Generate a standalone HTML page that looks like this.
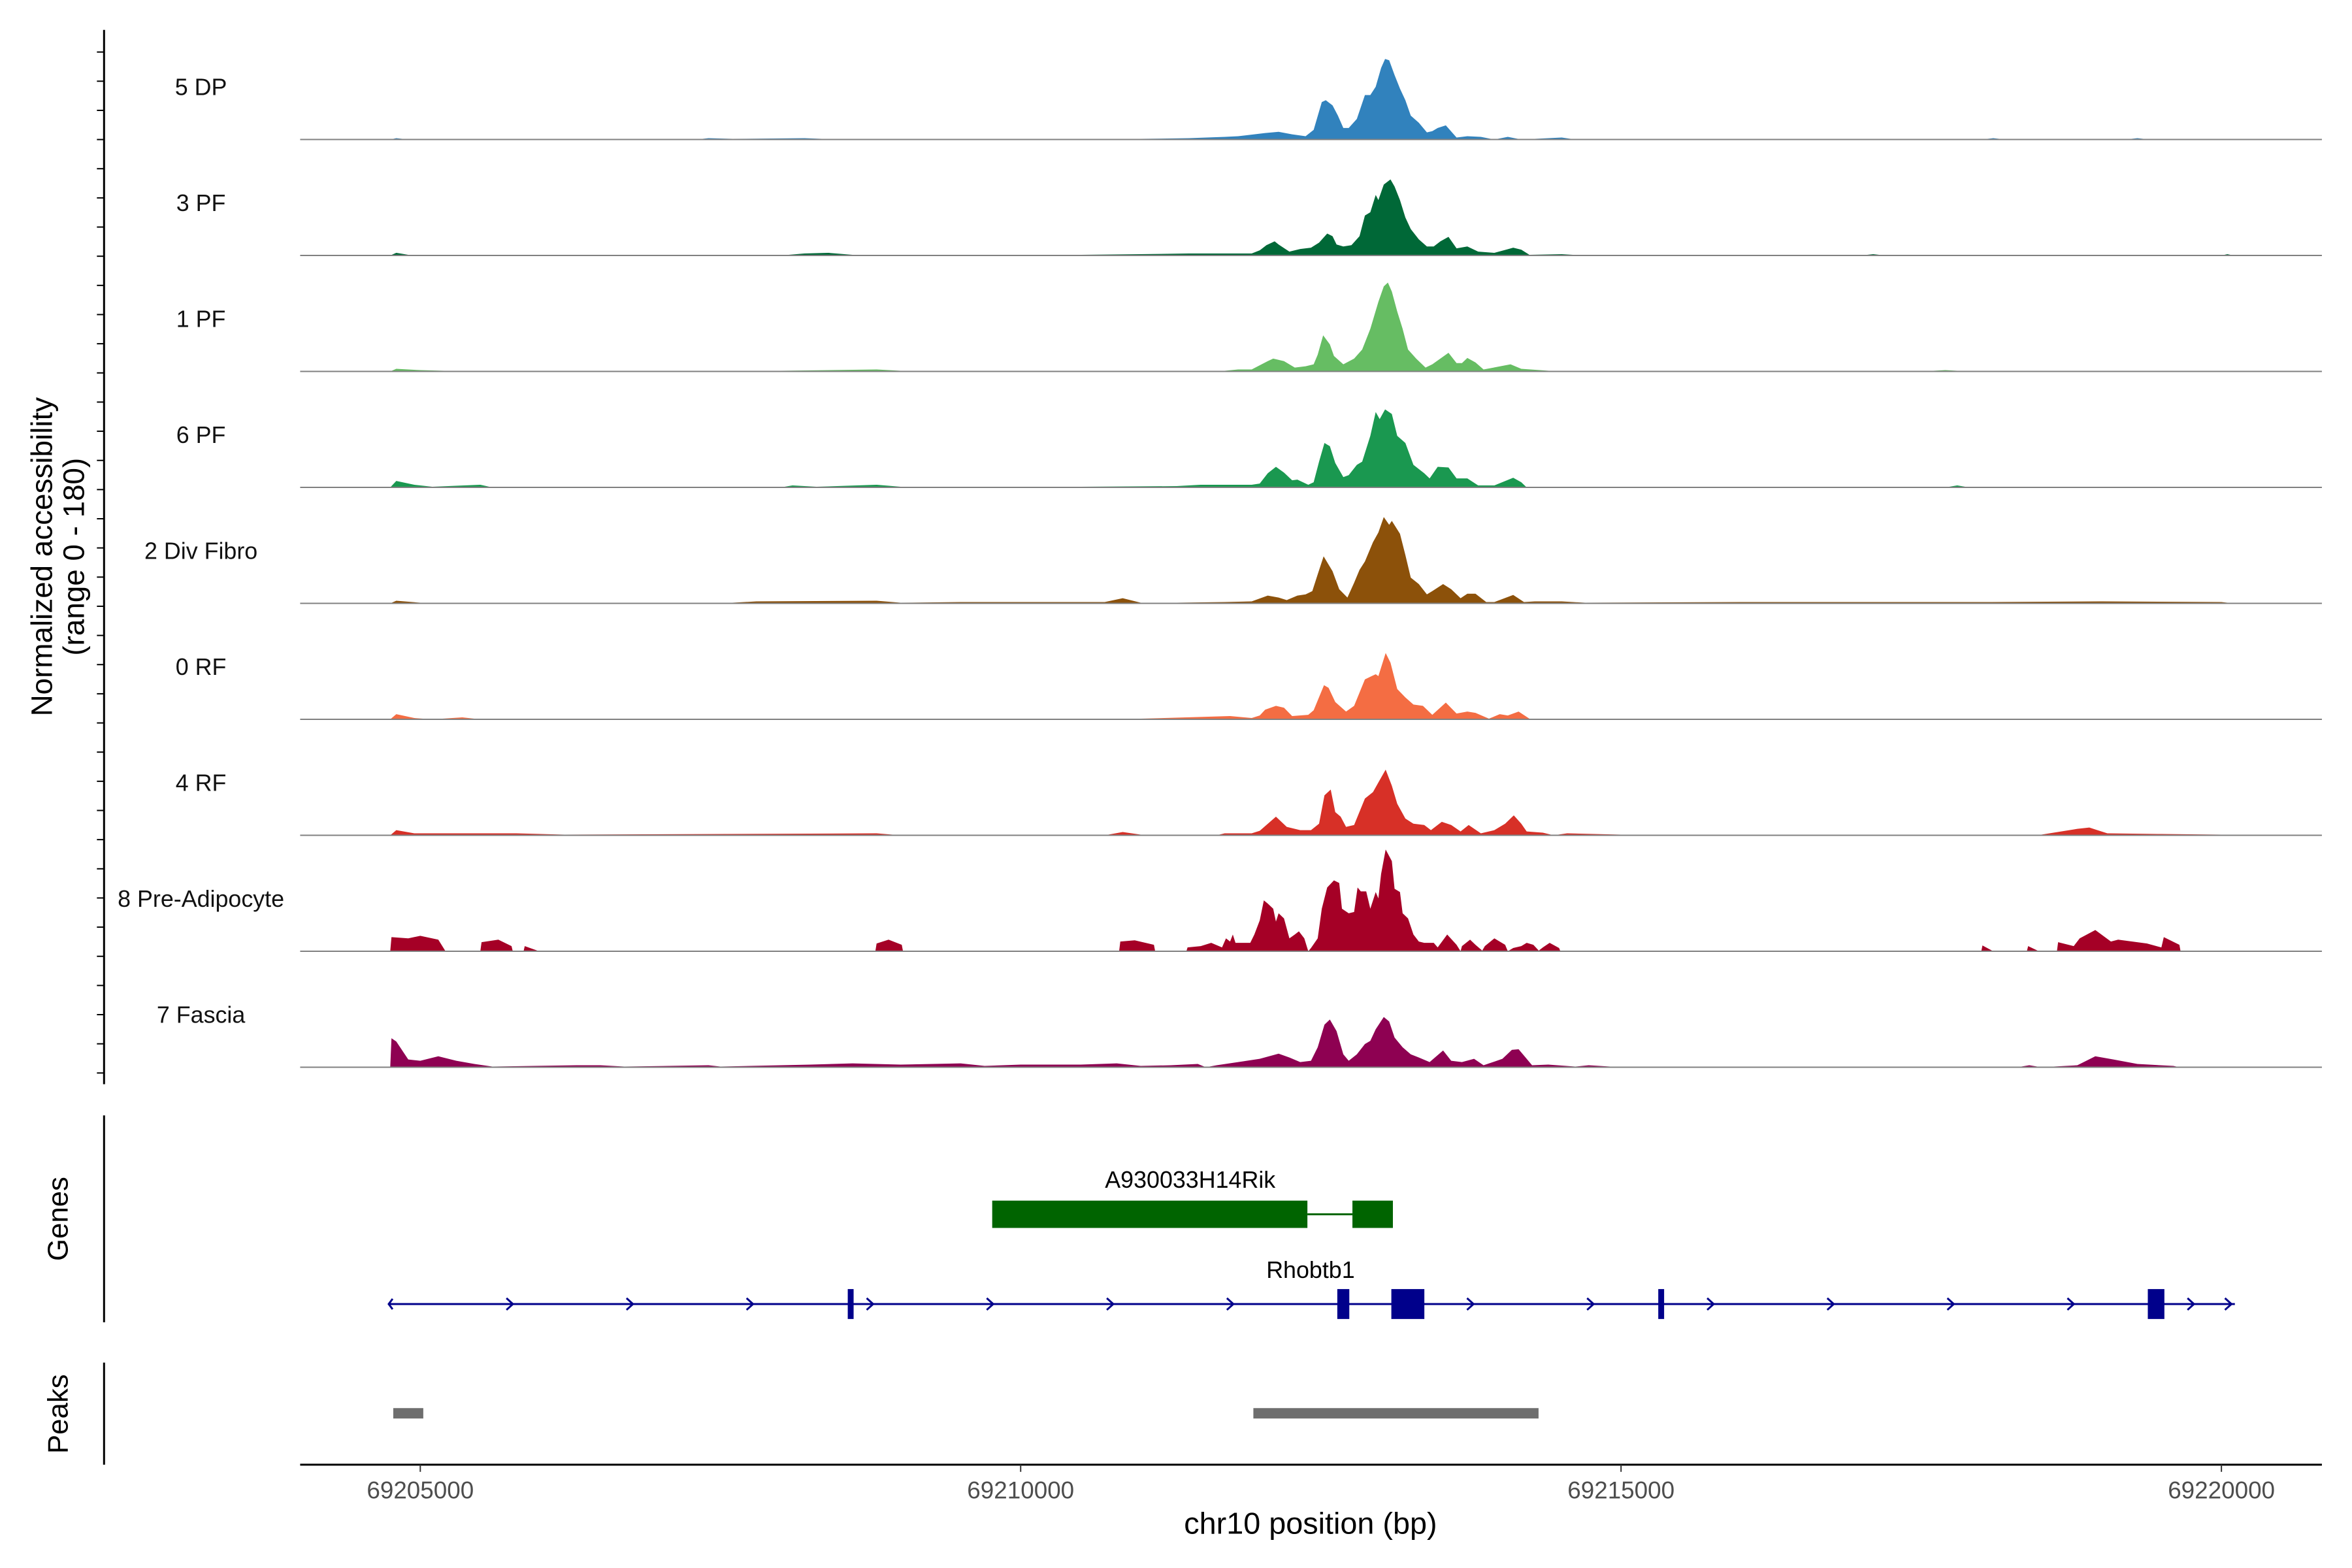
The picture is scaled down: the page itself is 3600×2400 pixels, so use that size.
<!DOCTYPE html>
<html><head><meta charset="utf-8"><style>
html,body{margin:0;padding:0;background:#fff}
svg{display:block}
text{font-family:"Liberation Sans",Arial,sans-serif}
</style></head><body>
<svg id="chart" width="3600" height="2400" viewBox="0 0 3600 2400" xmlns="http://www.w3.org/2000/svg">
<g transform="scale(0.9955)">
<g id="tracks"></g>
<g id="axes"></g>
<g id="genes"></g>
<g id="peaks"></g>
</g>
</svg>
<script>
// positions are bp offsets relative to 69210000
const origin = 69210000;
const trackNames = ["5 DP","3 PF","1 PF","6 PF","2 Div Fibro","0 RF","4 RF","8 Pre-Adipocyte","7 Fascia"];
const trackColors = ["#3182BD","#006837","#66BD63","#1A9850","#8C510A","#F46D43","#D73027","#A50026","#8E0152"];
const xTicks = [69205000,69210000,69215000,69220000];
const yMax = 180;
const sDP = [[-5250,0],[-5200,2],[-5100,0],[-2700,0],[-2600,2],[-2400,1],[-1800,2],[-1500,0],[0,0],[1000,1],[1400,2],[1699,4],[1811,5],[2036,10],[2148,12],[2261,8],[2373,5],[2440,15],[2508,58],[2541,61],[2597,53],[2642,37],[2687,18],[2732,18],[2800,32],[2867,69],[2912,69],[2957,82],[3002,111],[3035,125],[3069,123],[3114,100],[3159,79],[3204,61],[3249,37],[3316,26],[3383,11],[3428,13],[3473,18],[3541,22],[3630,3],[3720,5],[3833,4],[3945,0],[4057,4],[4169,0],[4506,3],[4619,0],[8000,0],[8100,2],[8200,0],[9200,0],[9300,2],[9400,0]];
const sPF3 = [[-5250,0],[-5200,4],[-5100,1],[-2000,0],[-1800,3],[-1600,4],[-1400,1],[-500,0],[500,1],[1000,2],[1400,3],[1924,3],[1991,8],[2047,16],[2115,22],[2148,17],[2238,6],[2328,10],[2418,12],[2485,20],[2553,34],[2597,30],[2631,17],[2687,14],[2755,16],[2822,30],[2867,62],[2912,67],[2957,94],[2979,86],[3024,110],[3080,118],[3114,107],[3159,86],[3204,59],[3249,41],[3316,25],[3383,14],[3440,14],[3496,22],[3563,29],[3630,11],[3720,14],[3810,6],[3945,4],[4102,12],[4169,9],[4237,1],[4506,2],[4700,0],[7000,0],[7100,2],[7200,0],[10000,0],[10050,2],[10100,0]];
const sPF1 = [[-5250,0],[-5200,4],[-5000,2],[-4800,1],[-2000,1],[-1200,3],[-1000,1],[1000,1],[1699,1],[1811,3],[1924,3],[2058,16],[2103,20],[2193,16],[2283,6],[2373,8],[2440,11],[2474,26],[2519,56],[2575,42],[2609,24],[2687,11],[2777,20],[2844,34],[2912,66],[2979,108],[3024,132],[3058,138],[3091,124],[3136,93],[3181,66],[3226,34],[3294,20],[3372,6],[3428,11],[3563,29],[3630,13],[3675,13],[3720,21],[3788,14],[3855,3],[4080,11],[4169,4],[4400,1],[4800,0],[7500,0],[7700,2],[7900,0]];
const sPF6 = [[-5250,0],[-5200,10],[-5050,4],[-4900,1],[-4500,4],[-4400,0],[-2000,0],[-1900,3],[-1700,1],[-1200,4],[-1000,1],[500,1],[1300,2],[1500,4],[1924,4],[1991,6],[2058,22],[2126,32],[2193,23],[2261,11],[2305,12],[2395,4],[2440,8],[2485,40],[2530,69],[2575,64],[2620,38],[2687,16],[2732,19],[2800,35],[2844,40],[2912,80],[2957,117],[2990,106],[3035,121],[3091,114],[3136,80],[3204,69],[3271,35],[3361,22],[3406,14],[3473,32],[3563,31],[3630,14],[3720,14],[3810,3],[3945,3],[4102,15],[4169,8],[4214,0],[7700,0],[7800,3],[7900,0]];
const sFibro = [[-5250,0],[-5200,4],[-5000,1],[-2400,1],[-2200,3],[-1200,4],[-1000,1],[-500,2],[700,2],[850,8],[1000,1],[1300,1],[1699,2],[1924,3],[2058,12],[2148,9],[2216,5],[2305,12],[2373,14],[2429,19],[2474,45],[2523,73],[2597,50],[2653,22],[2721,9],[2777,32],[2822,52],[2867,65],[2934,95],[2979,110],[3024,134],[3069,122],[3091,128],[3159,108],[3204,75],[3249,40],[3316,30],[3383,14],[3428,19],[3518,30],[3586,22],[3664,8],[3720,15],[3788,15],[3877,2],[3945,2],[4102,13],[4192,2],[4282,3],[4506,3],[4700,1],[6000,2],[7000,2],[8000,2],[9000,3],[10000,2],[10100,0]];
const sRF0 = [[-5250,0],[-5200,8],[-5050,2],[-4900,0],[-4650,3],[-4500,0],[0,0],[1000,1],[1744,5],[1924,2],[1991,6],[2036,15],[2126,21],[2193,18],[2261,5],[2395,7],[2440,14],[2526,53],[2564,49],[2620,27],[2710,12],[2777,21],[2867,62],[2923,67],[2957,70],[2979,67],[3040,103],[3080,88],[3136,47],[3204,34],[3271,23],[3350,21],[3428,7],[3541,26],[3630,9],[3720,12],[3788,10],[3900,1],[3990,8],[4057,6],[4147,12],[4237,1],[4400,0]];
const sRF4 = [[-5250,0],[-5200,8],[-5050,3],[-4200,3],[-3800,1],[-1200,3],[-1000,0],[700,0],[850,5],[1000,1],[1654,1],[1699,3],[1924,3],[1991,7],[2126,29],[2216,13],[2328,8],[2418,8],[2485,18],[2530,62],[2582,71],[2620,36],[2665,29],[2710,13],[2777,16],[2867,57],[2934,67],[2979,82],[3040,102],[3091,77],[3136,49],[3204,26],[3271,18],[3361,16],[3417,8],[3507,21],[3586,16],[3664,6],[3731,16],[3833,3],[3945,8],[4035,18],[4107,31],[4169,18],[4214,6],[4349,4],[4439,0],[4551,3],[5000,1],[8500,1],[8800,10],[8900,12],[9050,3],[9500,2],[10000,1],[10100,0]];
const sPreAd = [[-5250,0],[-5240,22],[-5100,20],[-5000,24],[-4850,18],[-4790,0],[-4500,0],[-4490,14],[-4350,18],[-4240,8],[-4230,0],[-4140,0],[-4130,8],[-4010,0],[-1210,0],[-1200,12],[-1100,18],[-990,10],[-980,0],[820,0],[830,15],[950,17],[1110,10],[1120,0],[1380,0],[1390,6],[1500,8],[1587,13],[1677,6],[1710,20],[1744,15],[1767,26],[1789,13],[1912,13],[1946,26],[1991,48],[2025,79],[2058,74],[2103,66],[2126,46],[2148,59],[2193,51],[2238,20],[2283,26],[2317,31],[2362,20],[2395,0],[2418,5],[2474,20],[2508,66],[2553,99],[2609,110],[2653,106],[2676,66],[2732,59],[2777,61],[2806,99],[2833,93],[2878,93],[2912,66],[2957,92],[2979,82],[3002,120],[3040,158],[3091,140],[3114,97],[3159,92],[3181,59],[3226,51],[3271,26],[3316,15],[3361,13],[3440,13],[3473,6],[3552,26],[3630,10],[3664,0],[3675,8],[3743,18],[3788,10],[3844,1],[3866,8],[3945,20],[4035,10],[4057,0],[4102,5],[4169,8],[4214,13],[4270,10],[4315,1],[4349,6],[4405,13],[4484,5],[4495,0],[8000,0],[8010,9],[8100,0],[8380,0],[8390,8],[8480,0],[8630,0],[8640,14],[8770,8],[8820,20],[8950,33],[9080,15],[9140,18],[9380,12],[9500,6],[9520,22],[9650,10],[9660,0]];
const sFascia = [[-5250,0],[-5240,45],[-5200,40],[-5100,12],[-5000,10],[-4850,17],[-4700,10],[-4550,5],[-4400,1],[-3700,3],[-3500,3],[-3300,1],[-2600,3],[-2500,1],[-1750,4],[-1400,6],[-1000,4],[-500,6],[-300,2],[0,4],[500,4],[800,6],[1000,2],[1250,3],[1475,5],[1542,0],[1632,3],[1811,8],[1991,13],[2148,21],[2238,15],[2328,8],[2418,10],[2474,31],[2530,66],[2575,74],[2631,56],[2687,20],[2732,10],[2800,20],[2867,36],[2912,41],[2957,59],[3024,78],[3069,71],[3114,46],[3181,31],[3249,20],[3316,15],[3406,8],[3518,26],[3586,10],[3675,8],[3776,13],[3855,3],[4012,13],[4091,27],[4147,28],[4192,18],[4259,3],[4394,4],[4619,1],[4731,3],[5000,0],[8300,0],[8400,3],[8500,0],[8800,3],[8950,17],[9100,12],[9300,5],[9600,2],[9650,0]];
const series = [sDP,sPF3,sPF1,sPF6,sFibro,sRF0,sRF4,sPreAd,sFascia];
const geneA = [[-237,2388],[2763,3100]]; // A930033H14Rik exons (offsets)
const geneRhoSpan = [-5263,10112];
const geneRhoExons = [[-1440,-1410],[2637,2737],[3087,3362],[5310,5340],[9387,9525]];
const geneRhoArrows = [-4250,-3250,-2250,-1250,-250,750,1750,3750,4750,5750,6750,7750,8750,9750,10062];
const peakRanges = [[-5225,-4975],[1938,4313]];

const NS="http://www.w3.org/2000/svg";
function mk(tag,attrs,parent){const e=document.createElementNS(NS,tag);for(const k in attrs)e.setAttribute(k,attrs[k]);parent.appendChild(e);return e;}
function x(off){return 646.2+((origin+off)-69205000)*0.18462;}
const base0=214.5, step=178.3, trackH=178.3;
function y(i,v){return base0+step*i - v/yMax*trackH;}

const tracks=document.getElementById('tracks');
series.forEach((s,i)=>{
  const b=base0+step*i;
  let d="M"+x(s[0][0]).toFixed(1)+","+b;
  s.forEach(p=>{d+=" L"+x(p[0]).toFixed(1)+","+y(i,p[1]).toFixed(1);});
  d+=" L"+x(s[s.length-1][0]).toFixed(1)+","+b+" Z";
  const pa=mk('path',{d:d,fill:trackColors[i]},tracks);
  
  
  const ln=mk('line',{x1:461.5,x2:3570,y1:b,y2:b,stroke:'#808080','stroke-width':2},tracks);
  
  
  const t=mk('text',{x:309,y:b-78,'text-anchor':'middle','dominant-baseline':'middle','font-size':36,fill:'#111'},tracks);
  t.textContent=trackNames[i];
  
  
});

const axes=document.getElementById('axes');
let a=mk('line',{x1:160,x2:160,y1:46,y2:1667,stroke:'#000','stroke-width':3},axes);


for(let yy=80;yy<1665;yy+=44.85){
  const tk=mk('line',{x1:149,x2:160,y1:yy,y2:yy,stroke:'#000','stroke-width':2},axes);
  
  
}
let yt=mk('text',{transform:'translate(80,856) rotate(-90)','text-anchor':'middle','font-size':46,fill:'#000'},axes);
yt.textContent='Normalized accessibility';


let yt2=mk('text',{transform:'translate(129,856) rotate(-90)','text-anchor':'middle','font-size':46,fill:'#000'},axes);
yt2.textContent='(range 0 - 180)';


[[1715,2033,'Genes',1874],[2095,2252,'Peaks',2174]].forEach(r=>{
  const l=mk('line',{x1:160,x2:160,y1:r[0],y2:r[1],stroke:'#000','stroke-width':3},axes);
  
  
  const t=mk('text',{transform:`translate(104,${r[3]}) rotate(-90)`,'text-anchor':'middle','font-size':44,fill:'#000'},axes);
  t.textContent=r[2];
  
  
});
a=mk('line',{x1:461.5,x2:3570,y1:2252,y2:2252,stroke:'#000','stroke-width':3},axes);


xTicks.forEach(v=>{
  const xx=x(v-origin);
  const tk=mk('line',{x1:xx,x2:xx,y1:2252,y2:2263,stroke:'#333','stroke-width':2},axes);
  
  
  const t=mk('text',{x:xx,y:2304,'text-anchor':'middle','font-size':37,fill:'#4d4d4d'},axes);
  t.textContent=String(v);
  
  
});
let xt=mk('text',{x:2015,y:2358,'text-anchor':'middle','font-size':47,fill:'#000'},axes);
xt.textContent='chr10 position (bp)';



const genes=document.getElementById('genes');
let ga=mk('line',{x1:x(geneA[0][1]),x2:x(geneA[1][0]),y1:1867,y2:1867,stroke:'#006400','stroke-width':3},genes);


geneA.forEach(e=>{
  const r=mk('rect',{x:x(e[0]),y:1846,width:x(e[1])-x(e[0]),height:42,fill:'#006400'},genes);
  
  
});
let gl=mk('text',{x:1830,y:1826,'text-anchor':'middle','font-size':36,fill:'#000'},genes);
gl.textContent='A930033H14Rik';


const gy=2005;
let rl=mk('line',{x1:x(geneRhoSpan[0]),x2:x(geneRhoSpan[1]),y1:gy,y2:gy,stroke:'#00008B','stroke-width':3},genes);


geneRhoArrows.forEach(o=>{
  const xx=x(o);
  const c=mk('polyline',{points:`${xx-6},${gy-9} ${xx+4},${gy} ${xx-6},${gy+9}`,fill:'none',stroke:'#00008B','stroke-width':3},genes);
  
  
});
let c0=mk('polyline',{points:`${x(geneRhoSpan[0])+6},${gy-8} ${x(geneRhoSpan[0])},${gy} ${x(geneRhoSpan[0])+6},${gy+8}`,fill:'none',stroke:'#00008B','stroke-width':3},genes);


geneRhoExons.forEach(e=>{
  const w=Math.max(x(e[1])-x(e[0]),9);
  const r=mk('rect',{x:x(e[0]),y:gy-23,width:w,height:46,fill:'#00008B'},genes);
  
  
});
let rlab=mk('text',{x:2015,y:1965,'text-anchor':'middle','font-size':36,fill:'#000'},genes);
rlab.textContent='Rhobtb1';



const peaks=document.getElementById('peaks');
peakRanges.forEach(p=>{
  const r=mk('rect',{x:x(p[0]),y:2165,width:x(p[1])-x(p[0]),height:16,fill:'#6E6E6E'},peaks);
  
  
});
</script>
</body></html>
